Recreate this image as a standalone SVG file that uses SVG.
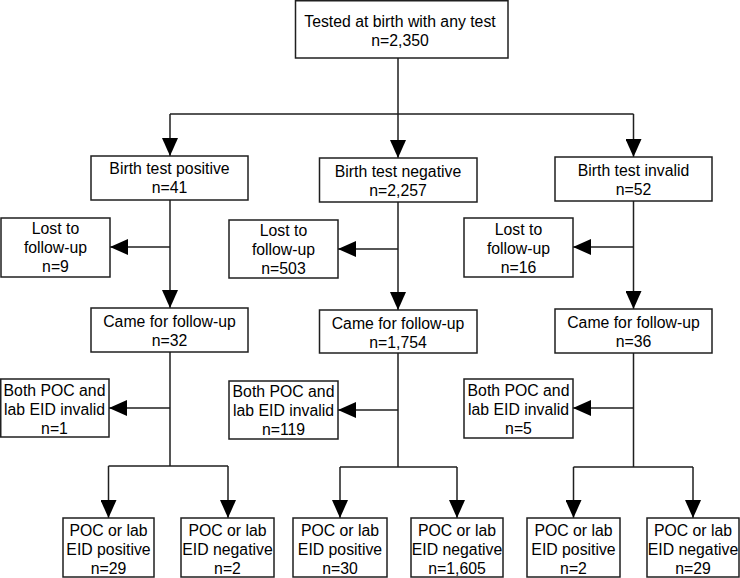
<svg xmlns="http://www.w3.org/2000/svg" width="740" height="578" viewBox="0 0 740 578">
<style>
.box{fill:#fff;stroke:#1f1f1f;stroke-width:1.5}
.ln{fill:none;stroke:#1f1f1f;stroke-width:1.5}
.ar{marker-end:url(#ah)}
text{font-family:"Liberation Sans",Arial,sans-serif;font-size:15.8px;fill:#000;text-anchor:middle}
</style>
<defs>
<marker id="ah" markerWidth="18" markerHeight="16" refX="18" refY="8" orient="auto" markerUnits="userSpaceOnUse">
<path d="M0,0 L18,8 L0,16 z" fill="#000"/>
</marker>
</defs>
<rect width="740" height="578" fill="#fff"/>
<g id="connectors">
<path class="ln" d="M398,58 V114 M170,114 H633.5"/>
<path class="ln ar" d="M170,114 V156"/>
<path class="ln ar" d="M398,114 V158"/>
<path class="ln ar" d="M633.5,114 V157"/>
<path class="ln ar" d="M170,200 V308"/>
<path class="ln ar" d="M170,247 H110"/>
<path class="ln ar" d="M398,202 V310"/>
<path class="ln ar" d="M398,249 H338"/>
<path class="ln ar" d="M633.5,201 V309"/>
<path class="ln ar" d="M633.5,247 H573"/>
<path class="ln" d="M170,352 V466 M108.5,466 H228"/>
<path class="ln ar" d="M170,408 H109"/>
<path class="ln ar" d="M108.5,466 V518"/>
<path class="ln ar" d="M228,466 V518"/>
<path class="ln" d="M398,353 V467 M340,467 H457"/>
<path class="ln ar" d="M398,410 H338"/>
<path class="ln ar" d="M340,467 V518"/>
<path class="ln ar" d="M457,467 V518"/>
<path class="ln" d="M633.5,353 V467 M573.5,467 H693"/>
<path class="ln ar" d="M633.5,408 H573"/>
<path class="ln ar" d="M573.5,467 V518"/>
<path class="ln ar" d="M693,467 V518"/>
</g>
<g id="top"><rect class="box" x="295.5" y="0.75" width="212.5" height="57.25"/><text x="400" y="27">Tested at birth with any test</text><text x="400" y="46">n=2,350</text></g>
<g id="birth-pos"><rect class="box" x="91" y="156" width="157" height="44"/><text x="169.5" y="174">Birth test positive</text><text x="169.5" y="193">n=41</text></g>
<g id="birth-neg"><rect class="box" x="319.5" y="158" width="157.5" height="44"/><text x="398" y="176.5">Birth test negative</text><text x="398" y="195.5">n=2,257</text></g>
<g id="birth-inv"><rect class="box" x="555" y="157" width="157" height="44"/><text x="633.5" y="175.5">Birth test invalid</text><text x="633.5" y="194.5">n=52</text></g>
<g id="lost-pos"><rect class="box" x="1" y="218" width="109" height="59"/><text x="55.5" y="233.5">Lost to</text><text x="55.5" y="252.5">follow-up</text><text x="55.5" y="271.5">n=9</text></g>
<g id="lost-neg"><rect class="box" x="229" y="220" width="109" height="58"/><text x="283.5" y="235.5">Lost to</text><text x="283.5" y="254.5">follow-up</text><text x="283.5" y="273.5">n=503</text></g>
<g id="lost-inv"><rect class="box" x="464" y="218" width="109" height="59"/><text x="518.5" y="234.5">Lost to</text><text x="518.5" y="253.5">follow-up</text><text x="518.5" y="272.5">n=16</text></g>
<g id="came-pos"><rect class="box" x="91" y="308" width="157" height="44"/><text x="169.5" y="326.5">Came for follow-up</text><text x="169.5" y="345.5">n=32</text></g>
<g id="came-neg"><rect class="box" x="319.5" y="310" width="157.5" height="43"/><text x="398" y="328.5">Came for follow-up</text><text x="398" y="347.5">n=1,754</text></g>
<g id="came-inv"><rect class="box" x="555" y="309" width="157" height="44"/><text x="633.5" y="328">Came for follow-up</text><text x="633.5" y="347">n=36</text></g>
<g id="both-pos"><rect class="box" x="0.75" y="379" width="108.25" height="58"/><text x="54.5" y="395.5">Both POC and</text><text x="54.5" y="414.5">lab EID invalid</text><text x="54.5" y="433.5">n=1</text></g>
<g id="both-neg"><rect class="box" x="229" y="381" width="109" height="58"/><text x="283.5" y="396.5">Both POC and</text><text x="283.5" y="415.5">lab EID invalid</text><text x="283.5" y="434.5">n=119</text></g>
<g id="both-inv"><rect class="box" x="464" y="379" width="109" height="59"/><text x="518.5" y="395.5">Both POC and</text><text x="518.5" y="414.5">lab EID invalid</text><text x="518.5" y="433.5">n=5</text></g>
<g id="res-pos-pos"><rect class="box" x="63" y="518" width="91" height="59"/><text x="108.5" y="535.5">POC or lab</text><text x="108.5" y="554.5">EID positive</text><text x="108.5" y="573.5">n=29</text></g>
<g id="res-pos-neg"><rect class="box" x="181" y="518" width="93" height="59"/><text x="227.5" y="535.5">POC or lab</text><text x="227.5" y="554.5">EID negative</text><text x="227.5" y="573.5">n=2</text></g>
<g id="res-neg-pos"><rect class="box" x="293" y="518" width="94" height="59"/><text x="340" y="535.5">POC or lab</text><text x="340" y="554.5">EID positive</text><text x="340" y="573.5">n=30</text></g>
<g id="res-neg-neg"><rect class="box" x="411" y="518" width="92" height="59"/><text x="457" y="535.5">POC or lab</text><text x="457" y="554.5">EID negative</text><text x="457" y="573.5">n=1,605</text></g>
<g id="res-inv-pos"><rect class="box" x="527" y="518" width="93" height="59"/><text x="573.5" y="535.5">POC or lab</text><text x="573.5" y="554.5">EID positive</text><text x="573.5" y="573.5">n=2</text></g>
<g id="res-inv-neg"><rect class="box" x="647" y="518" width="92" height="59"/><text x="693" y="535.5">POC or lab</text><text x="693" y="554.5">EID negative</text><text x="693" y="573.5">n=29</text></g>
</svg>
